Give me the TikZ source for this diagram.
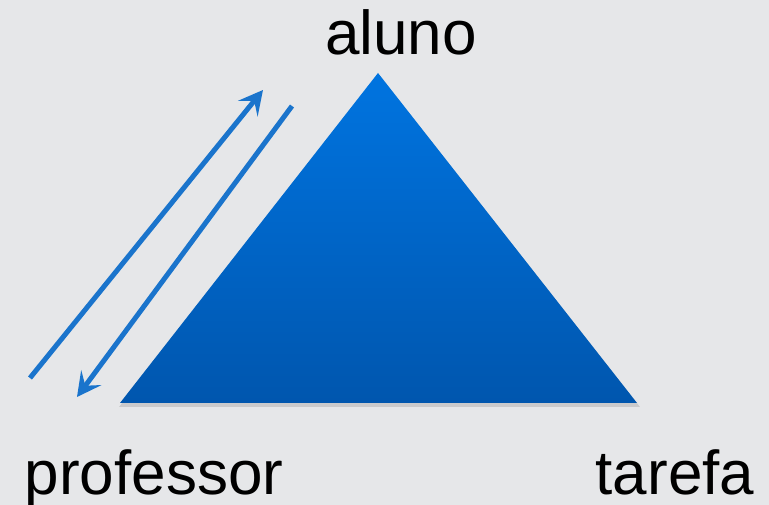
\documentclass[tikz,border=0pt]{standalone}
\usepackage{fontspec}
\setmainfont{Liberation Sans}
\usetikzlibrary{arrows.meta}
\definecolor{bgc}{HTML}{E6E7E9}
\definecolor{tritop}{HTML}{0074E0}
\definecolor{tribot}{HTML}{0056AE}
\definecolor{arrc}{HTML}{1A74CC}
\tikzset{
  lbl/.style={font=\fontsize{62pt}{70pt}\selectfont, anchor=base, inner sep=0pt, text=black},
  flow/.style={draw=arrc, line width=5pt, -{Stealth[length=24pt,width=25pt,inset=10pt]}}
}
\begin{document}
\begin{tikzpicture}[x=1pt,y=1pt]
\fill[bgc] (0,0) rectangle (769,505);
\useasboundingbox (0,0) rectangle (769,505);
\coordinate (apex) at (378,432);
\coordinate (bl) at (120,102);
\coordinate (br) at (637,102);
\fill[black, opacity=0.12] ([shift={(2,-3)}]apex) -- ([shift={(-1,-4)}]bl) -- ([shift={(3,-4)}]br) -- cycle;
\shade[top color=tritop, bottom color=tribot] (apex) -- (bl) -- (br) -- cycle;
\coordinate (a1s) at (30,127);
\coordinate (a1e) at (263,415);
\coordinate (a2s) at (292,399);
\coordinate (a2e) at (77,108);
\draw[flow] (a1s) -- (a1e);
\draw[flow] (a2s) -- (a2e);
\node[lbl] (aluno) at (401,450) {aluno};
\node[lbl] (professor) at (154,10) {professor};
\node[lbl] (tarefa) at (675,10) {tarefa};
\end{tikzpicture}
\end{document}
